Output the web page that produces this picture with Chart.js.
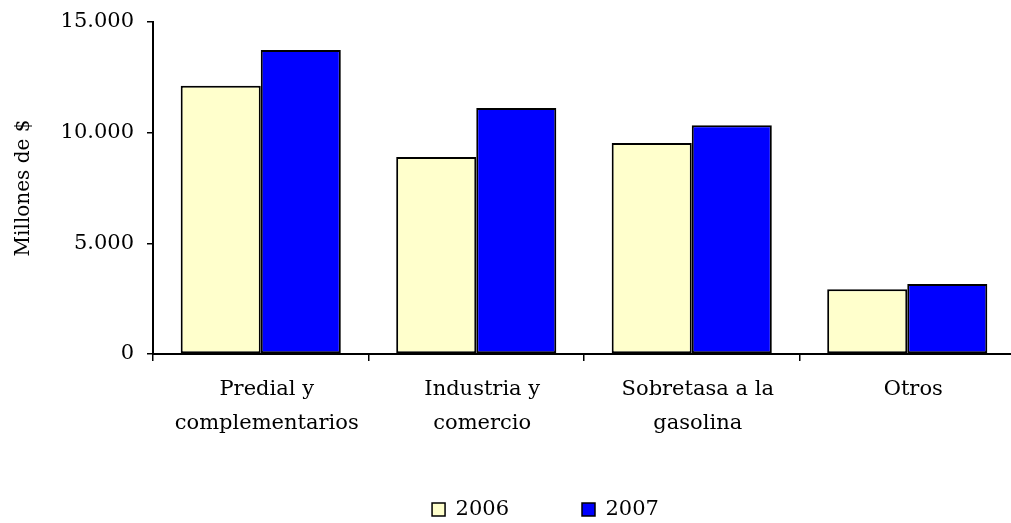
<!DOCTYPE html>
<html>
<head>
<meta charset="utf-8">
<script src="https://cdn.jsdelivr.net/npm/chart.js"></script>
<style>
  html, body { margin: 0; padding: 0; background: #fff; overflow: hidden; }
  #wrap { width: 1020px; height: 523px; }
</style>
</head>
<body>
<div id="wrap"><canvas id="chart"></canvas></div>
<script>
const categories = [
  ['Predial y', 'complementarios'],
  ['Industria y', 'comercio'],
  ['Sobretasa a la', 'gasolina'],
  ['Otros']
];
const years = ['2006', '2007'];
const values2006 = [12120, 8900, 9530, 2930];
const values2007 = [13730, 11110, 10340, 3160];
const yTicks = [0, 5000, 10000, 15000];

const serif = '"DejaVu Serif", "Liberation Serif", serif';

function formatThousands(v) {
  return String(v).replace(/\B(?=(\d{3})+(?!\d))/g, '.');
}

// nudge the legend row to where the original sits
const legendShift = {
  id: 'legendShift',
  afterLayout(chart) {
    const lg = chart.legend;
    if (!lg) return;
    lg.left += 38;
    lg.right += 38;
    lg.top += 7;
    lg.bottom += 7;
  }
};

new Chart(document.getElementById('chart'), {
  type: 'bar',
  data: {
    labels: categories,
    datasets: [{
      label: years[0],
      data: values2006,
      backgroundColor: '#FFFFCC',
      borderColor: '#000',
      borderWidth: 2,
      borderSkipped: false
    }, {
      label: years[1],
      data: values2007,
      backgroundColor: '#0000FF',
      borderColor: '#000',
      borderWidth: 2,
      borderSkipped: false
    }]
  },
  plugins: [legendShift],
  options: {
    responsive: true,
    maintainAspectRatio: false,
    animation: false,
    layout: { padding: { left: 0, right: 5, top: 0, bottom: 0 } },
    datasets: { bar: { categoryPercentage: 0.743, barPercentage: 1.0 } },
    plugins: {
      tooltip: { enabled: false },
      legend: {
        position: 'bottom',
        labels: {
          color: '#000',
          font: { family: serif, size: 21 },
          boxWidth: 13,
          boxHeight: 13,
          padding: 10,
          generateLabels: function(chart) {
            const items = Chart.defaults.plugins.legend.labels.generateLabels(chart);
            items.forEach(function(it, i) {
              it.lineWidth = 1.5;
              it.strokeStyle = '#000';
              if (i < items.length - 1) it.text = it.text + '\u2003\u2003\u2003';
            });
            return items;
          }
        }
      }
    },
    scales: {
      x: {
        grid: {
          display: true,
          drawOnChartArea: false,
          drawTicks: true,
          tickLength: 7,
          color: '#000',
          lineWidth: 1.5
        },
        border: { color: '#000', width: 2 },
        ticks: {
          color: '#000',
          maxRotation: 0,
          autoSkip: false,
          padding: 12,
          labelOffset: 6,
          font: { family: serif, size: 21, lineHeight: 1.62 }
        },
        afterFit: function(scale) { scale.height = 128; }
      },
      y: {
        min: 0,
        max: 15000,
        afterBuildTicks: function(scale) {
          scale.ticks = yTicks.map(v => ({ value: v }));
        },
        grid: {
          display: true,
          drawOnChartArea: false,
          drawTicks: true,
          tickLength: 6,
          color: '#000',
          lineWidth: 1.5
        },
        border: { color: '#000', width: 2 },
        ticks: {
          color: '#000',
          padding: 13,
          font: { family: serif, size: 21 },
          callback: function(value) { return formatThousands(value); }
        },
        title: {
          display: true,
          text: 'Millones de $',
          color: '#000',
          font: { family: serif, size: 20 },
          padding: { top: 12, bottom: 0 }
        },
        afterFit: function(scale) {
          scale.width = 153;
          scale.paddingTop = 22;
        }
      }
    }
  }
});
</script>
</body>
</html>
